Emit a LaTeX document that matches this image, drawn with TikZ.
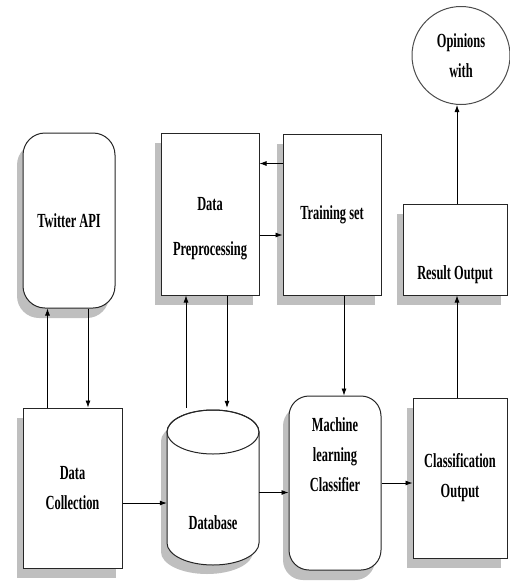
\documentclass[tikz,border=0pt]{standalone}
\usepackage{fontspec}
\setmainfont{Liberation Serif}[FakeStretch=0.62]
\usetikzlibrary{arrows.meta,shadows}

\begin{document}
\begin{tikzpicture}[
    x=1pt, y=-1pt,
    every node/.style={font=\bfseries\fontsize{20}{30}\selectfont, align=center, text=black},
    box/.style={draw=black!85, line width=1pt, fill=white, inner sep=0pt,
        drop shadow={shadow xshift=-6pt, shadow yshift=-10pt, fill=black!25, opacity=1}},
    rbox/.style={box, rounded corners=22pt},
    lbl/.style={draw=none, fill=none},
    arr/.style={-{Latex[length=7pt,width=5pt]}, line width=0.8pt}
]
\useasboundingbox (0,0) rectangle (509,581);

\node[rbox, minimum width=92pt, minimum height=175pt] (tw) at (69,220.5) {Twitter API};
\node[box, minimum width=98pt, minimum height=162pt,
    label={[lbl,yshift=-15pt]center:{Data\\[15pt]Preprocessing}}] (dp) at (210,214) {};
\node[box, minimum width=98pt, minimum height=161pt] (tr) at (332,214.5) {Training set};
\node[box, minimum width=104pt, minimum height=91pt,
    label={[lbl,yshift=-25pt]center:Result Output}] (ro) at (455,249.5) {};
\node[circle, draw=black!70, line width=1pt, fill=white, minimum size=98pt, inner sep=0pt] (op) at (461,55.5) {Opinions\\with};

\node[box, minimum width=99pt, minimum height=160pt] (dc) at (72.5,488) {Data\\Collection};
% database cylinder
\fill[black!25] (161,441) -- (161,552) arc[start angle=180, end angle=360, x radius=46pt, y radius=22pt]
    -- (253,441) arc[start angle=0, end angle=180, x radius=46pt, y radius=22pt] -- cycle;
\filldraw[fill=white, draw=black!85, line width=1pt] (167,432) -- (167,543)
    arc[start angle=180, end angle=360, x radius=46pt, y radius=22pt]
    -- (259,432) arc[start angle=0, end angle=180, x radius=46pt, y radius=22pt] -- cycle;
\draw[draw=black!85, line width=1pt] (213,432) ellipse[x radius=46pt, y radius=22pt];
\node[minimum width=92pt, minimum height=157pt, inner sep=0pt,
    label={[lbl,yshift=-36pt]center:Database}] (db) at (213,486.5) {};
\node[rbox, rounded corners=20pt, minimum width=92pt, minimum height=174pt,
    label={[lbl,yshift=28pt]center:{Machine\\learning\\Classifier}}] (ml) at (335,483) {};
\node[box, minimum width=94pt, minimum height=160pt] (co) at (460,478) {Classification\\Output};

% Connections
\draw[arr] ([xshift=-25pt]dc.north) -- ([xshift=-25pt]dc.north |- tw.south);
\draw[arr] ([xshift=19pt]tw.south) -- ([xshift=19pt]tw.south |- dc.north);
\draw[arr] ([xshift=-27pt]db.north) -- ([xshift=-27pt]db.north |- dp.south);
\draw[arr] ([xshift=17pt]dp.south) -- ([xshift=17pt]dp.south |- db.north);
\draw[arr] ([yshift=51pt]tr.west) -- ([yshift=51pt]tr.west -| dp.east);
\draw[arr] ([yshift=-21pt]dp.east) -- ([yshift=-21pt]dp.east -| tr.west);
\draw[arr] ([xshift=12pt]tr.south) -- ([xshift=12pt]tr.south |- ml.north);
\draw[arr] ([yshift=-15pt]dc.east) -- ([yshift=-15pt]dc.east -| db.west);
\draw[arr] ([yshift=-6pt]db.east) -- ([yshift=-6pt]db.east -| ml.west);
\draw[arr] (ml.east) -- (ml.east -| co.west);
\draw[arr] ([xshift=-3pt]co.north) -- ([xshift=-3pt]co.north |- ro.south);
\draw[arr] ([xshift=2pt]ro.north) -- ([xshift=2pt]ro.north |- op.south);

\end{tikzpicture}
\end{document}
